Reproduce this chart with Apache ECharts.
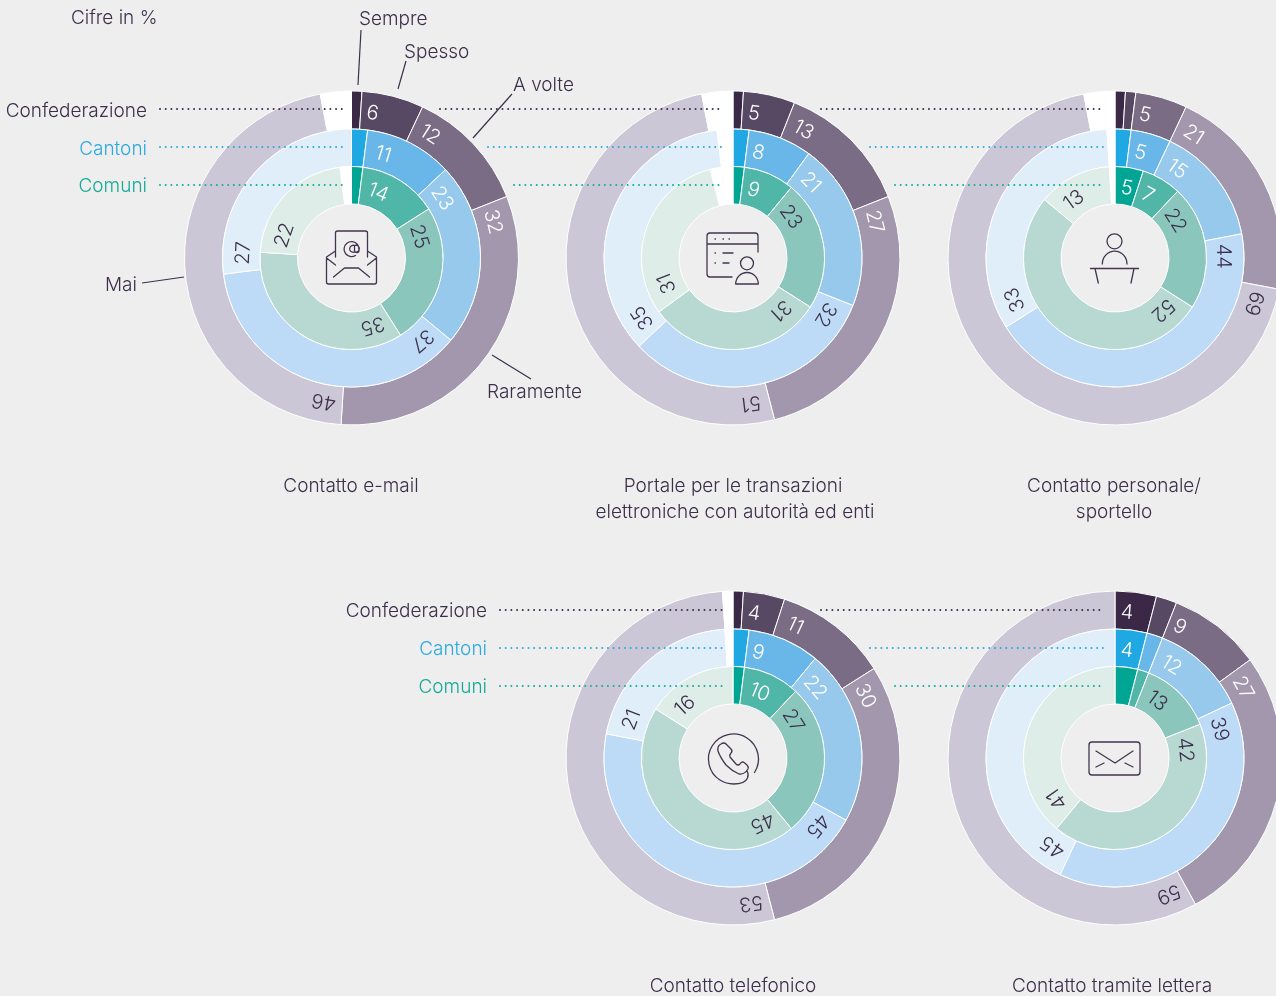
<!DOCTYPE html>
<html><head><meta charset="utf-8">
<style>html,body{margin:0;padding:0;background:#eeeeee;overflow:hidden}#c{width:1276px;height:996px}</style>
<script src="https://cdn.jsdelivr.net/npm/echarts@6/dist/echarts.min.js"></script>
</head><body><div id="c"></div>
<script>
// Category order of every ring: Sempre, Spesso, A volte, Raramente, Mai, no answer
const emailConf   = [1, 6, 12, 32, 46, 3];
const emailCant   = [2, 11, 23, 37, 27, 0];
const emailCom    = [2, 14, 25, 35, 22, 2];
const portaleConf = [1, 5, 13, 27, 51, 3];
const portaleCant = [2, 8, 21, 32, 35, 2];
const portaleCom  = [2, 9, 23, 31, 31, 4];
const personConf  = [1, 1, 5, 21, 69, 3];
const personCant  = [2, 5, 15, 44, 33, 1];
const personCom   = [5, 7, 22, 52, 13, 1];
const teleConf    = [1, 4, 11, 30, 53, 1];
const teleCant    = [2, 9, 22, 45, 21, 1];
const teleCom     = [2, 10, 27, 45, 16, 0];
const letteraConf = [4, 2, 9, 27, 59, 0];
const letteraCant = [4, 2, 12, 39, 45, 0];
const letteraCom  = [4, 2, 13, 42, 41, 0];
// Slices too thin to carry a printed figure
const unprintedCom = { lettera: 0 };

const captions = [
  ['Contatto e-mail'],
  ['Portale per le transazioni', 'elettroniche con autorità ed enti'],
  ['Contatto personale/', 'sportello'],
  ['Contatto telefonico'],
  ['Contatto tramite lettera']
];
const levelNames = ['Confederazione', 'Cantoni', 'Comuni'];
const frequencyNames = ['Sempre', 'Spesso', 'A volte', 'Raramente', 'Mai'];

const confColors = ['#3a2846', '#574863', '#7a6c85', '#a297ad', '#ccc7d6', '#ffffff'];
const cantColors = ['#1fa8e2', '#69b6e8', '#97c9ec', '#bddbf6', '#e0eef9', '#ffffff'];
const comColors  = ['#00a693', '#50b6a7', '#8bc6bc', '#b7d9d2', '#deede8', '#ffffff'];
const INK = '#3c2f4a', BLUE = '#2aa9e0', TEAL = '#14ac98';
const FONT = 'Inter';

const panels = [
  { c: [351.5, 258], rings: [emailConf, emailCant, emailCom] },
  { c: [733, 258], rings: [portaleConf, portaleCant, portaleCom] },
  { c: [1115, 258], rings: [personConf, personCant, personCom] },
  { c: [733, 758], rings: [teleConf, teleCant, teleCom] },
  { c: [1115, 758], rings: [letteraConf, letteraCant, letteraCom] }
];
const ringStyle = [
  { r: [129, 167], colors: confColors, whiteUpTo: 3 },
  { r: [91.5, 129], colors: cantColors, whiteUpTo: 2 },
  { r: [54, 91.5], colors: comColors, whiteUpTo: 1 }
];

const seriesMeta = [];
const series = [];
panels.forEach(function (p) {
  p.rings.forEach(function (vals, ri) {
    const st = ringStyle[ri];
    let cum = 0;
    const data = [];
    const starts = [];
    vals.forEach(function (v, i) {
      // a slice never runs past the full circle (printed figures can add up to over 100)
      const span = Math.min(v, 100 - cum);
      const isNA = i === 5;
      const printed = !isNA && v >= 4 && !(vals === letteraCom && i === unprintedCom.lettera);
      if (span > 0) {
        starts.push({ at: cum, digits: String(v).length });
        data.push({
          value: span,
          name: isNA ? 'n.d.' : frequencyNames[i],
          itemStyle: { color: st.colors[i] },
          label: {
            show: printed,
            formatter: String(v),
            color: i <= st.whiteUpTo ? '#ffffff' : INK
          }
        });
      }
      cum += span;
    });
    seriesMeta.push({ c: p.c, rm: (st.r[0] + st.r[1]) / 2 - 2, starts: starts });
    series.push({
      type: 'pie', silent: true, animation: false, clockwise: true, startAngle: 90,
      center: p.c, radius: st.r, avoidLabelOverlap: false,
      itemStyle: { borderColor: '#ffffff', borderWidth: 1 },
      label: { position: 'inside', fontFamily: FONT, fontSize: 20, fontWeight: 300 },
      labelLine: { show: false },
      labelLayout: function (params) {
        const m = seriesMeta[params.seriesIndex];
        const s = m.starts[params.dataIndex];
        const a = s.at * 3.6 * Math.PI / 180 + (s.digits === 1 ? 12 : 18.5) / m.rm;
        return {
          x: m.c[0] + m.rm * Math.sin(a),
          y: m.c[1] - m.rm * Math.cos(a),
          rotate: -a * 180 / Math.PI,
          align: 'center', verticalAlign: 'middle'
        };
      },
      data: data
    });
  });
});

const g = [];
function txt(t, x, y, align, color) {
  g.push({ type: 'text', x: x, y: y + 1, z: 20, silent: true,
    style: { text: t, fill: color || INK, font: '300 19px ' + FONT, textAlign: align || 'left', textVerticalAlign: 'middle' } });
}
function line(x1, y1, x2, y2, color, dotted) {
  g.push({ type: 'line', z: 20, silent: true, shape: { x1: x1, y1: y1, x2: x2, y2: y2 },
    style: dotted ? { stroke: color, lineWidth: 2, lineDash: [0.01, 5.67], lineCap: 'round' } : { stroke: color, lineWidth: 1.2 } });
}

txt('Cifre in %', 71, 17);
txt('Sempre', 359, 18);
txt('Spesso', 404, 51);
txt('A volte', 513, 84);
txt('Mai', 105, 284);
txt('Raramente', 487, 391);
line(361, 30, 358, 85, INK);
line(406, 61, 398, 89, INK);
line(512, 94, 473, 138, INK);
line(142, 283, 184, 277, INK);
line(492, 355, 531, 379, INK);

txt(levelNames[0], 147, 110, 'right');
txt(levelNames[1], 147, 148, 'right', BLUE);
txt(levelNames[2], 147, 185, 'right', TEAL);
txt(levelNames[0], 487, 610, 'right');
txt(levelNames[1], 487, 648, 'right', BLUE);
txt(levelNames[2], 487, 686, 'right', TEAL);

line(160, 109, 342, 109, INK, true);
line(160, 147, 342, 147, BLUE, true);
line(160, 185, 342, 185, TEAL, true);
line(440, 109, 722, 109, INK, true);
line(488, 147, 722, 147, BLUE, true);
line(514, 185, 722, 185, TEAL, true);
line(821, 109, 1104, 109, INK, true);
line(870, 147, 1104, 147, BLUE, true);
line(895, 185, 1104, 185, TEAL, true);
line(500, 610, 722, 610, INK, true);
line(500, 648, 722, 648, BLUE, true);
line(500, 686, 722, 686, TEAL, true);
line(821, 610, 1104, 610, INK, true);
line(870, 648, 1104, 648, BLUE, true);
line(895, 686, 1104, 686, TEAL, true);

txt(captions[0][0], 351, 485, 'center');
txt(captions[1][0], 733, 485, 'center');
txt(captions[1][1], 735, 511, 'center');
txt(captions[2][0], 1114, 485, 'center');
txt(captions[2][1], 1114, 511, 'center');
txt(captions[3][0], 733, 985, 'center');
txt(captions[4][0], 1112, 985, 'center');

// centre icons, one per panel
const iconPaths = [
  'M-16,-1V-25a2,2 0 0 1 2,-2H14a2,2 0 0 1 2,2V-1M-16,-7L-25,-1V24a2,2 0 0 0 2,2H23a2,2 0 0 0 2,-2V-1L16,-7M-25,0L-16,7M25,0L16,7M-18,19L-7,10H7L18,19' +
    'M3,-12.5A3.5,3.5 0 1 0 3,-6A3.5,3.5 0 1 0 3,-12.5M3,-12.5V-7.5A2.2,2.2 0 0 0 7.5,-8A7.5,7.5 0 1 0 4,-2.5',
  'M-1,19H-23a3,3 0 0 1 -3,-3V-22a3,3 0 0 1 3,-3H22a3,3 0 0 1 3,3V-6M-26,-14H25M-18,-19h.5M-10,-19h.5M-4,-19h.5M-18,-5h.5M-10,-5H0M-18,5h.5M-10,5H-4' +
    'M20.5,5.3A6.5,6.5 0 1 0 7.5,5.3A6.5,6.5 0 1 0 20.5,5.3M2.7,26A11.3,11.5 0 0 1 25.3,26Z',
  'M7,-16.7A7.5,7.5 0 1 0 -8,-16.7A7.5,7.5 0 1 0 7,-16.7M-12.7,6A12,12.5 0 0 1 12,6M-24.5,10.5H23.5M-20,10.5L-16.7,25M19,10.5L16,25',
  'M21.5,14.5A25,25 0 1 0 0.5,26Q12,26 14.5,20Q16,16 14,13' +
    'M-12,-14Q-16,-12 -15,-7Q-13,-1 -7,7Q-1,13 6,16Q11,17 15,11Q16,9 14,7L11,4.5Q9,3 7,6Q5,8 3,6L-3,-1Q-4,-3 -2,-5Q0,-7 -2,-9L-7,-14Q-9,-16 -12,-14Z',
  'M-23,-16H22a3,3 0 0 1 3,3V14a3,3 0 0 1 -3,3H-23a3,3 0 0 1 -3,-3V-13a3,3 0 0 1 3,-3ZM-19,-7L0,5L18,-7M-19,9L-11,5M10,5L18,9'
];
series.push({
  type: 'custom', coordinateSystem: 'none', silent: true, animation: false, z: 5,
  data: iconPaths.map(function (_, i) { return [i]; }),
  renderItem: function (params, api) {
    const i = api.value(0);
    return {
      type: 'path', x: panels[i].c[0], y: panels[i].c[1],
      shape: { pathData: iconPaths[i] },
      style: { fill: 'none', stroke: '#43354f', lineWidth: 1.3, lineJoin: 'round', lineCap: 'round' }
    };
  }
});

const chart = echarts.init(document.getElementById('c'), null, { renderer: 'canvas' });
chart.setOption({
  backgroundColor: '#eeeeee',
  animation: false,
  tooltip: { show: false },
  legend: { show: false },
  series: series,
  graphic: { elements: g }
});
</script>
</body></html>
